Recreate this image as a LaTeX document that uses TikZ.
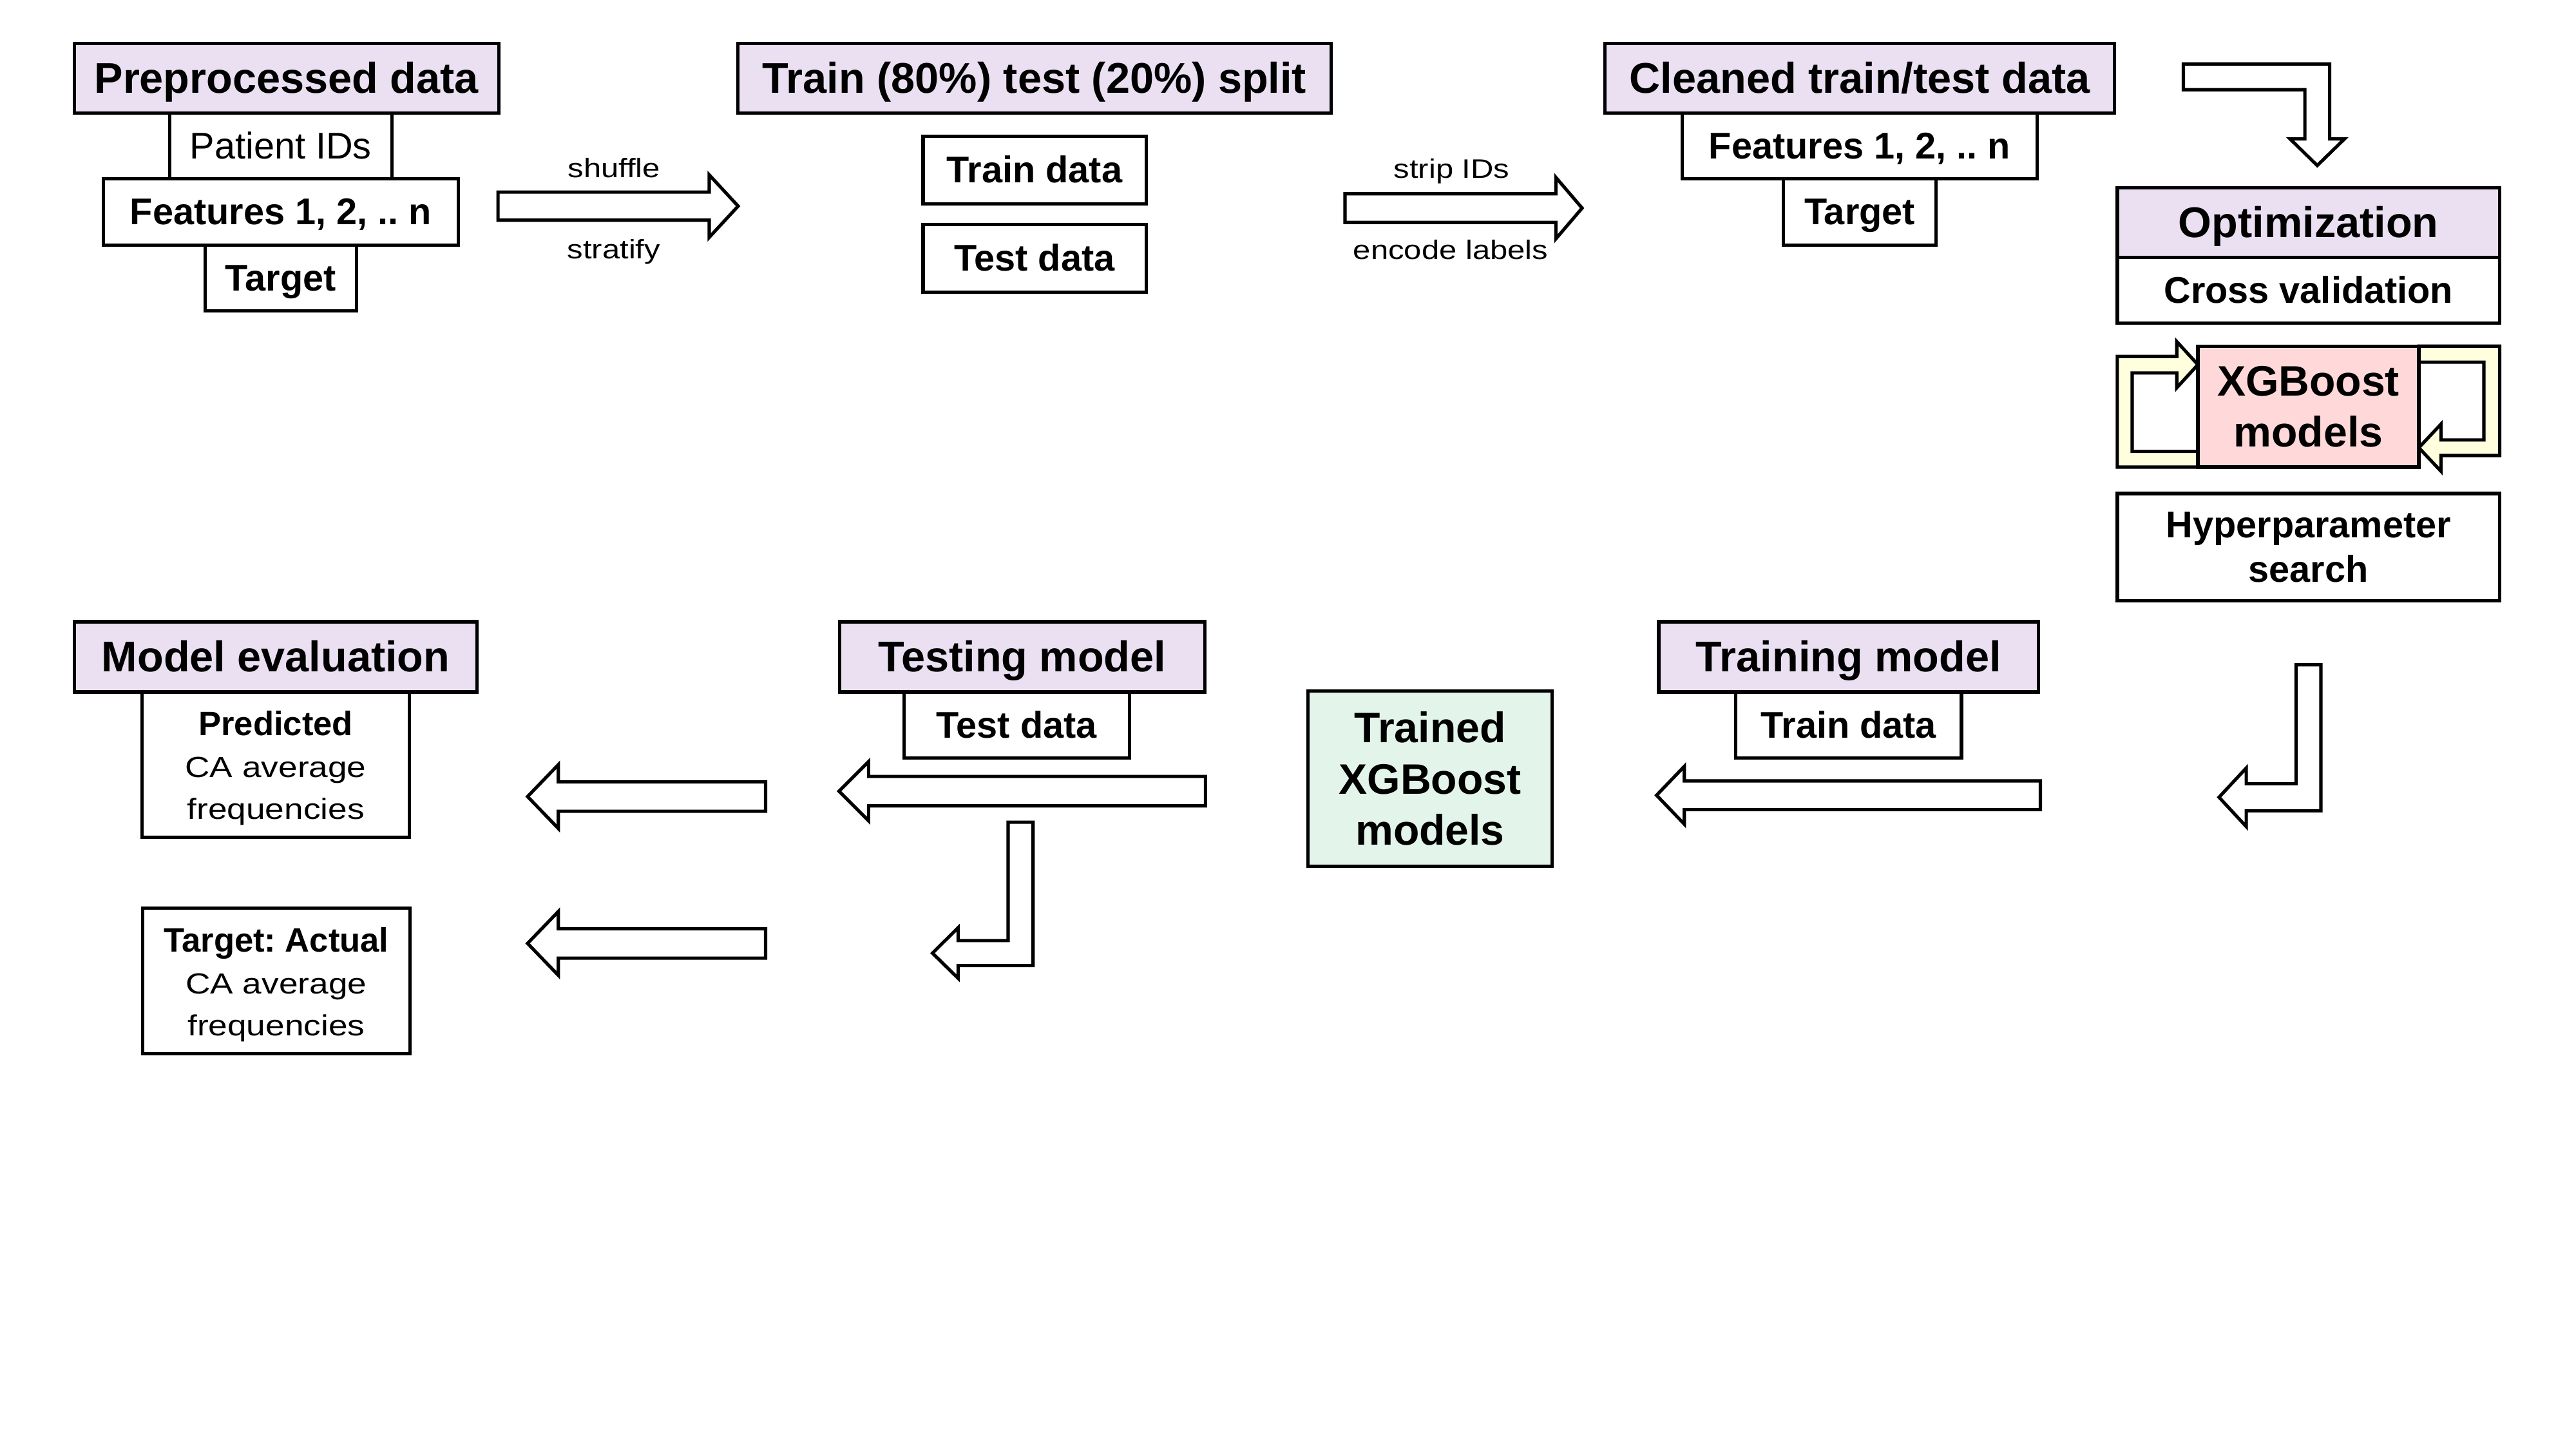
\documentclass[tikz,border=0pt]{standalone}
\usepackage{fontspec}
\setmainfont{Liberation Sans}
\newfontfamily\widefont[FakeStretch=1.18]{Liberation Sans}
\usetikzlibrary{positioning}
\definecolor{headfill}{RGB}{234,224,242}
\definecolor{modelfill}{RGB}{255,217,217}
\definecolor{loopfill}{RGB}{255,255,221}
\definecolor{trainedfill}{RGB}{227,245,235}
\tikzset{
  box/.style={draw, line width=2pt, inner sep=0pt, outer sep=0pt, align=center},
  header/.style={box, fill=headfill, minimum height=42pt, text height=23.5pt, text depth=5.5pt,
    font=\fontsize{26}{31.2}\selectfont\bfseries},
  item/.style={box, fill=white, minimum height=40pt, text height=20.4pt, text depth=4.8pt,
    font=\fontsize{22.5}{27}\selectfont\bfseries},
  twoline/.style={box, fill=white, font=\fontsize{22.5}{27}\selectfont\bfseries},
  result/.style={box, fill=white, minimum width=162pt, minimum height=88pt,
    font=\fontsize{20.5}{25.3}\selectfont},
  model/.style={box, font=\fontsize{25.8}{31}\selectfont\bfseries},
  blockarrow/.style={draw, line width=2pt, fill=white},
  looparrow/.style={blockarrow, fill=loopfill},
  arrowlabel/.style={inner sep=0pt, anchor=base,
    font=\widefont\fontsize{16.2}{19.4}\selectfont}
}
% tail x, head base x, tip x, centre y, shaft half width, head half width
\newcommand{\hblock}[6]{%
  \draw[blockarrow] (#1,#4-#5) -- (#2,#4-#5) -- (#2,#4-#6) -- (#3,#4)
    -- (#2,#4+#6) -- (#2,#4+#5) -- (#1,#4+#5) -- cycle;}
\newcommand{\widetext}[1]{{\widefont\fontsize{17.6}{25.3}\selectfont #1}}
\frenchspacing

\begin{document}
\begin{tikzpicture}[x=1pt, y=-1pt]
	\useasboundingbox (0,0) rectangle (1560,877.3);

	% top row
	\node[header, minimum width=257pt] (pre) at (173.5,47.3) {Preprocessed data};
	\node[item, font=\fontsize{22.5}{27}\selectfont, minimum width=134.5pt,
		below=0pt of pre, xshift=-3.5pt] (pid) {Patient IDs};
	\node[item, minimum width=215pt, below=0pt of pid] (feat) {Features 1, 2, .. n};
	\node[item, minimum width=91.7pt, below=0pt of feat] (target) {Target};

	\hblock{301.6}{429.5}{447}{124.8}{8.5}{18.9}
	\node[arrowlabel] (shuffle) at (371.9,107.3) {shuffle};
	\node[arrowlabel] (stratify) at (371.7,156.7) {stratify};

	\node[header, minimum width=359pt] (split) at (626.5,47.3) {Train (80\%) test (20\%) split};
	\node[item, minimum width=135pt, minimum height=40.7pt, below=14.3pt of split] (trdata) {Train data};
	\node[item, minimum width=135pt, minimum height=41pt, below=12.5pt of trdata] (tedata) {Test data};

	\hblock{814.5}{942.2}{958.1}{126}{8.7}{18.6}
	\node[arrowlabel] (strip) at (879.1,108) {strip IDs};
	\node[arrowlabel] (encode) at (878.5,157.2) {encode labels};

	\node[header, minimum width=308.4pt] (clean) at (1126.2,47.3) {Cleaned train/test data};
	\node[item, minimum width=214.7pt, below=0pt of clean] (feat2) {Features 1, 2, .. n};
	\node[item, minimum width=92.5pt, below=0pt of feat2] (target2) {Target};

	\draw[blockarrow] (1322.2,38.7) -- (1410.8,38.7) -- (1410.8,84.1) -- (1419.8,84.1)
		-- (1403.3,100.2) -- (1386.8,84.1) -- (1395.8,84.1) -- (1395.8,54.3) -- (1322.2,54.3) -- cycle;

	% optimization column
	\node[header, minimum width=231.5pt] (opt) at (1398,134.8) {Optimization};
	\node[item, minimum width=231.5pt, below=0pt of opt] (cv) {Cross validation};
	\draw[looparrow] (1331,282.8) -- (1282.2,282.8) -- (1282.2,215.8) -- (1318.2,215.8)
		-- (1318.2,206.8) -- (1331,220.8) -- (1318.2,234.8) -- (1318.2,225.8)
		-- (1291.2,225.8) -- (1291.2,273.3) -- (1331,273.3) -- cycle;
	\draw[looparrow] (1464.8,209.6) -- (1513.8,209.6) -- (1513.8,275.8) -- (1478.2,275.8)
		-- (1478.2,285.3) -- (1464.8,271.1) -- (1478.2,256.8) -- (1478.2,266.4)
		-- (1504.2,266.4) -- (1504.2,219.3) -- (1464.8,219.3) -- cycle;
	\node[model, fill=modelfill, minimum width=133.8pt, minimum height=73.2pt] (xgb)
		at (1397.9,246.2) {XGBoost\\models};
	\node[twoline, minimum width=231.5pt, minimum height=65pt] (hyper) at (1398,331.3)
		{Hyperparameter\\search};

	\draw[blockarrow] (1390.5,402.5) -- (1405.5,402.5) -- (1405.5,491) -- (1360.3,491)
		-- (1360.3,500.5) -- (1343.8,482.7) -- (1360.3,465) -- (1360.3,474.5)
		-- (1390.5,474.5) -- cycle;

	% bottom row
	\node[header, minimum width=230pt, minimum height=42.5pt] (trainh) at (1119.5,397.7) {Training model};
	\node[item, minimum width=136.7pt, below=0pt of trainh] (trdata2) {Train data};
	\hblock{1235.6}{1020}{1003.2}{481.5}{8.7}{17.5}

	\node[model, fill=trainedfill, minimum width=148pt, minimum height=106pt] (trained)
		at (866,471.5) {Trained\\XGBoost\\models};

	\node[header, minimum width=221pt, minimum height=42.5pt] (testh) at (619,397.7) {Testing model};
	\node[item, minimum width=136.4pt, below=0pt of testh, xshift=-3.3pt] (tedata2) {Test data};
	\hblock{730}{526}{508.1}{479}{8.9}{17.9}
	\draw[blockarrow] (610.5,497.8) -- (625.6,497.8) -- (625.6,584.6) -- (580.2,584.6)
		-- (580.2,592.3) -- (564.7,577.1) -- (580.2,561.7) -- (580.2,569.5)
		-- (610.5,569.5) -- cycle;

	\node[header, minimum width=244pt, minimum height=42.5pt] (evalh) at (167,397.7) {Model evaluation};
	\node[result, below=0pt of evalh] (pred)
		{\rule{0pt}{19pt}{\bfseries Predicted}\\\widetext{CA average}\\\widetext{frequencies}};
	\node[result] (actual) at (167.3,594)
		{\rule{0pt}{19pt}{\bfseries Target: Actual}\\\widetext{CA average}\\\widetext{frequencies}};
	\hblock{463.6}{338.1}{319.5}{482.3}{8.9}{19.3}
	\hblock{463.6}{338.1}{319.5}{571.2}{8.9}{19.3}
\end{tikzpicture}
\end{document}
